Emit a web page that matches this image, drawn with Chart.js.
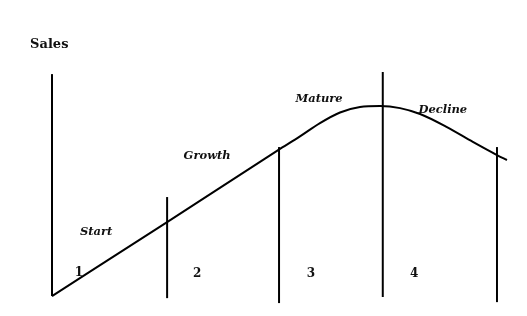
<!DOCTYPE html>
<html>
<head>
<meta charset="utf-8">
<script src="https://cdn.jsdelivr.net/npm/chart.js@4/dist/chart.umd.min.js"></script>
<style>
  body { margin: 0; background: #fff; }
  canvas { display: block; }
</style>
</head>
<body>
<canvas id="plc" width="527" height="316"></canvas>
<script>
// life cycle curve (time 0..100, sales 0..100)
const curveTime  = [0, 25.3, 49.7, 54.5, 58.9, 63.3, 67.7, 72.1, 76.5, 80.9, 86.8, 92.5, 97.8, 100];
const curveSales = [0, 38.9, 76.8, 84.0, 91.0, 96.6, 99.5, 100, 98.9, 95.8, 88.9, 81.1, 74.2, 71.6];

// vertical boundaries between stages (first one is the sales axis)
const boundaryTime   = [0, 25.3, 49.9, 72.7, 97.8];
const boundaryTop    = [116.8, 52.1, 78.4, 117.9, 78.4];
const boundaryBottom = [0, -1.1, -3.7, -0.5, -3.2];

// stage names
const stageNames = ['Start', 'Growth', 'Mature', 'Decline'];
const stageNameT = [9.7, 34.1, 58.7, 85.9];
const stageNameS = [33.7, 73.7, 103.7, 97.9];

// stage numbers
const stageNums = ['1', '2', '3', '4'];
const stageNumT = [5.9, 31.9, 56.9, 79.6];
const stageNumS = [12.1, 11.6, 11.6, 11.6];

const axisTitle = 'Sales';
const axisTitleT = -0.6;
const axisTitleS = 132.1;

const datasets = [];
datasets.push({
  data: curveTime.map((t, i) => ({ x: t, y: curveSales[i] })),
  borderColor: '#000',
  borderWidth: 2,
  pointRadius: 0,
  cubicInterpolationMode: 'monotone'
});
boundaryTime.forEach((t, i) => {
  datasets.push({
    data: [{ x: t, y: boundaryBottom[i] }, { x: t, y: boundaryTop[i] }],
    borderColor: '#000',
    borderWidth: 2,
    pointRadius: 0
  });
});

const textPlugin = {
  id: 'plcText',
  afterDatasetsDraw(chart) {
    const { ctx, scales: { x, y } } = chart;
    ctx.save();
    ctx.fillStyle = '#111';
    ctx.textAlign = 'center';
    ctx.textBaseline = 'middle';

    ctx.font = 'bold 13px "DejaVu Serif", serif';
    ctx.fillText(axisTitle, x.getPixelForValue(axisTitleT), y.getPixelForValue(axisTitleS));

    ctx.font = 'italic bold 11.5px "DejaVu Serif", serif';
    stageNames.forEach((s, i) => {
      ctx.fillText(s, x.getPixelForValue(stageNameT[i]), y.getPixelForValue(stageNameS[i]));
    });

    ctx.font = 'bold 12px "DejaVu Serif", serif';
    stageNums.forEach((s, i) => {
      ctx.fillText(s, x.getPixelForValue(stageNumT[i]), y.getPixelForValue(stageNumS[i]));
    });
    ctx.restore();
  }
};

new Chart(document.getElementById('plc'), {
  type: 'line',
  data: { datasets },
  options: {
    responsive: false,
    animation: false,
    layout: { padding: 0 },
    scales: {
      x: { type: 'linear', min: -11.43, max: 104.4, display: false },
      y: { type: 'linear', min: -10.5, max: 155.8, display: false }
    },
    plugins: { legend: { display: false }, tooltip: { enabled: false } }
  },
  plugins: [textPlugin]
});
</script>
</body>
</html>
